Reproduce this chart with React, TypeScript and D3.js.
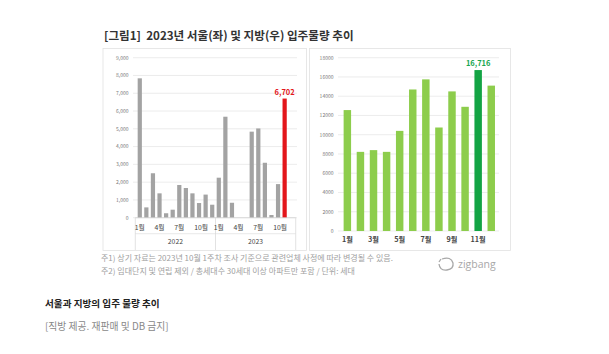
import React from 'react'
import * as d3 from 'd3'

// 서울 (left) : 2022.1 ~ 2023.12 monthly
const seoulYears = ['2022', '2023']
const seoul2022 = [7840, 580, 2500, 1370, 250, 450, 1840, 1670, 1370, 825, 1300, 730]
const seoul2023 = [2250, 5680, 840, 0, 0, 4840, 5020, 3090, 150, 1890, 6702, null]
const seoulTicks = [0, 1000, 2000, 3000, 4000, 5000, 6000, 7000, 8000, 9000]

// 지방 (right) : 2023.1 ~ 12
const localMonths = ['1월', '2월', '3월', '4월', '5월', '6월', '7월', '8월', '9월', '10월', '11월', '12월']
const localValues = [12560, 8220, 8400, 8220, 10400, 14700, 15750, 10750, 14500, 12900, 16716, 15100]
const localTicks = [0, 2000, 4000, 6000, 8000, 10000, 12000, 14000, 16000, 18000]

const KR = '"Noto Sans CJK KR", "Noto Sans", sans-serif'

function SeoulChart() {
    const data = [...seoul2022, ...seoul2023]
    const keys = data.map((_, i) => `${seoulYears[Math.floor(i / 12)]}-${(i % 12) + 1}`)

    const x = d3.scaleBand().domain(keys).range([135.3, 295.7]).padding(0.36)
    const y = d3.scaleLinear().domain([0, 9000]).range([217.7, 57.7])
    const hi = 22
    const fmt = d3.format(',')

    return (
        <g>
            {seoulTicks.map(t => (
                <g key={t}>
                    <line x1={133} x2={297} y1={y(t)} y2={y(t)} stroke="#e4e4e4" strokeWidth={0.7} />
                    <text x={128.5} y={y(t) + 1.8} textAnchor="end" fontSize={5} fill="#777" fontFamily={KR}>{fmt(t)}</text>
                </g>
            ))}
            {data.map((v, i) => v == null ? null : (
                <rect key={keys[i]} x={x(keys[i])} width={x.bandwidth()} y={y(v)} height={y(0) - y(v)}
                    fill={i === hi ? '#e3161b' : '#a3a3a3'} />
            ))}
            <text x={x(keys[hi])! + x.bandwidth() / 2} y={y(data[hi]!) - 4} textAnchor="middle"
                fontSize={7.5} fontWeight="bold" fill="#e3161b" fontFamily={KR}>{fmt(data[hi]!)}</text>
            {/* category axis */}
            <line x1={135.3} x2={295.7} y1={y(0)} y2={y(0)} stroke="#d0d0d0" strokeWidth={0.7} />
            <line x1={135.3} x2={295.7} y1={233.7} y2={233.7} stroke="#e0e0e0" strokeWidth={0.7} />
            {[135.3, 215.5, 295.7].map(d => (
                <line key={d} x1={d} x2={d} y1={y(0)} y2={250} stroke="#d6d6d6" strokeWidth={0.7} />
            ))}
            {keys.map((k, i) => (i % 12) % 3 === 0 ? (
                <text key={k} x={x(k)! + x.bandwidth() / 2 + (i % 12 === 9 ? 2 : 0)} y={230} textAnchor="middle" fontSize={6.8}
                    fill="#444" fontFamily={KR}>{`${(i % 12) + 1}월`}</text>
            ) : null)}
            {seoulYears.map((yr, j) => (
                <text key={yr} x={j === 0 ? 175.4 : 255.6} y={244} textAnchor="middle" fontSize={6.8}
                    fill="#444" fontFamily={KR}>{yr}</text>
            ))}
        </g>
    )
}

function LocalChart() {
    const x = d3.scaleBand().domain(localMonths).range([338, 500.6]).padding(0.43)
    const y = d3.scaleLinear().domain([0, 18000]).range([231, 57.7])
    const hi = 10

    return (
        <g>
            {localTicks.map(t => (
                <g key={t}>
                    <line x1={338} x2={499} y1={y(t)} y2={y(t)} stroke="#e4e4e4" strokeWidth={0.7} />
                    <text x={333.5} y={y(t) + 1.8} textAnchor="end" fontSize={5} fill="#777" fontFamily={KR}>{t}</text>
                </g>
            ))}
            {localValues.map((v, i) => (
                <rect key={localMonths[i]} x={x(localMonths[i])} width={x.bandwidth()} y={y(v)} height={y(0) - y(v)}
                    fill={i === hi ? '#13a444' : '#8dcd4c'} />
            ))}
            <text x={x(localMonths[hi])! + x.bandwidth() / 2} y={y(localValues[hi]) - 4.5} textAnchor="middle"
                fontSize={7.5} fontWeight="bold" fill="#1aa651" fontFamily={KR}>{d3.format(',')(localValues[hi])}</text>
            {localMonths.map((m, i) => i % 2 === 0 ? (
                <text key={m} x={x(m)! + x.bandwidth() / 2} y={242} textAnchor="middle" fontSize={7.2}
                    fontWeight="bold" fill="#444" fontFamily={KR}>{m}</text>
            ) : null)}
        </g>
    )
}

export default function App() {
    return (
        <svg width={609} height={354} style={{ position: 'absolute', left: 0, top: 0, background: '#fff' }}>
            <text x={104} y={39.5} fontSize={11.6} fontWeight="bold" fill="#333" fontFamily={KR} style={{ whiteSpace: 'pre' }}>
                {'[그림1]  2023년 서울(좌) 및 지방(우) 입주물량 추이'}
            </text>
            <rect x={103} y={48.5} width={203.5} height={202} fill="none" stroke="#e2e2e2" strokeWidth={0.8} />
            <rect x={309.5} y={48.5} width={201} height={202} fill="none" stroke="#e2e2e2" strokeWidth={0.8} />
            <SeoulChart />
            <LocalChart />
            <text x={101} y={261} fontSize={8} fill="#a0a0a0" fontFamily={KR}>
                주1) 상기 자료는 2023년 10월 1주차 조사 기준으로 관련업체 사정에 따라 변경될 수 있음.
            </text>
            <text x={101} y={274} fontSize={8} fill="#a0a0a0" fontFamily={KR}>
                주2) 임대단지 및 연립 제외 / 총세대수 30세대 이상 아파트만 포함 / 단위: 세대
            </text>
            <g transform="translate(446,264)" fill="none" stroke="#a8a8a8" strokeWidth={1.3}>
                <path d="M -4 -5 Q 5 -8 7 -1 Q 8 5 1 6 Q -6 7 -7 0" />
                <path d="M -7 -2 L -5 -5" />
            </g>
            <text x={458} y={267.5} fontSize={10.5} fill="#a8a8a8" fontFamily='"Open Sans", sans-serif'>zigbang</text>
            <text x={45} y={307} fontSize={9.6} fontWeight="bold" fill="#222" fontFamily={KR}>
                서울과 지방의 입주 물량 추이
            </text>
            <text x={45} y={330} fontSize={9.8} fill="#888" fontFamily={KR}>
                [직방 제공. 재판매 및 DB 금지]
            </text>
        </svg>
    )
}
